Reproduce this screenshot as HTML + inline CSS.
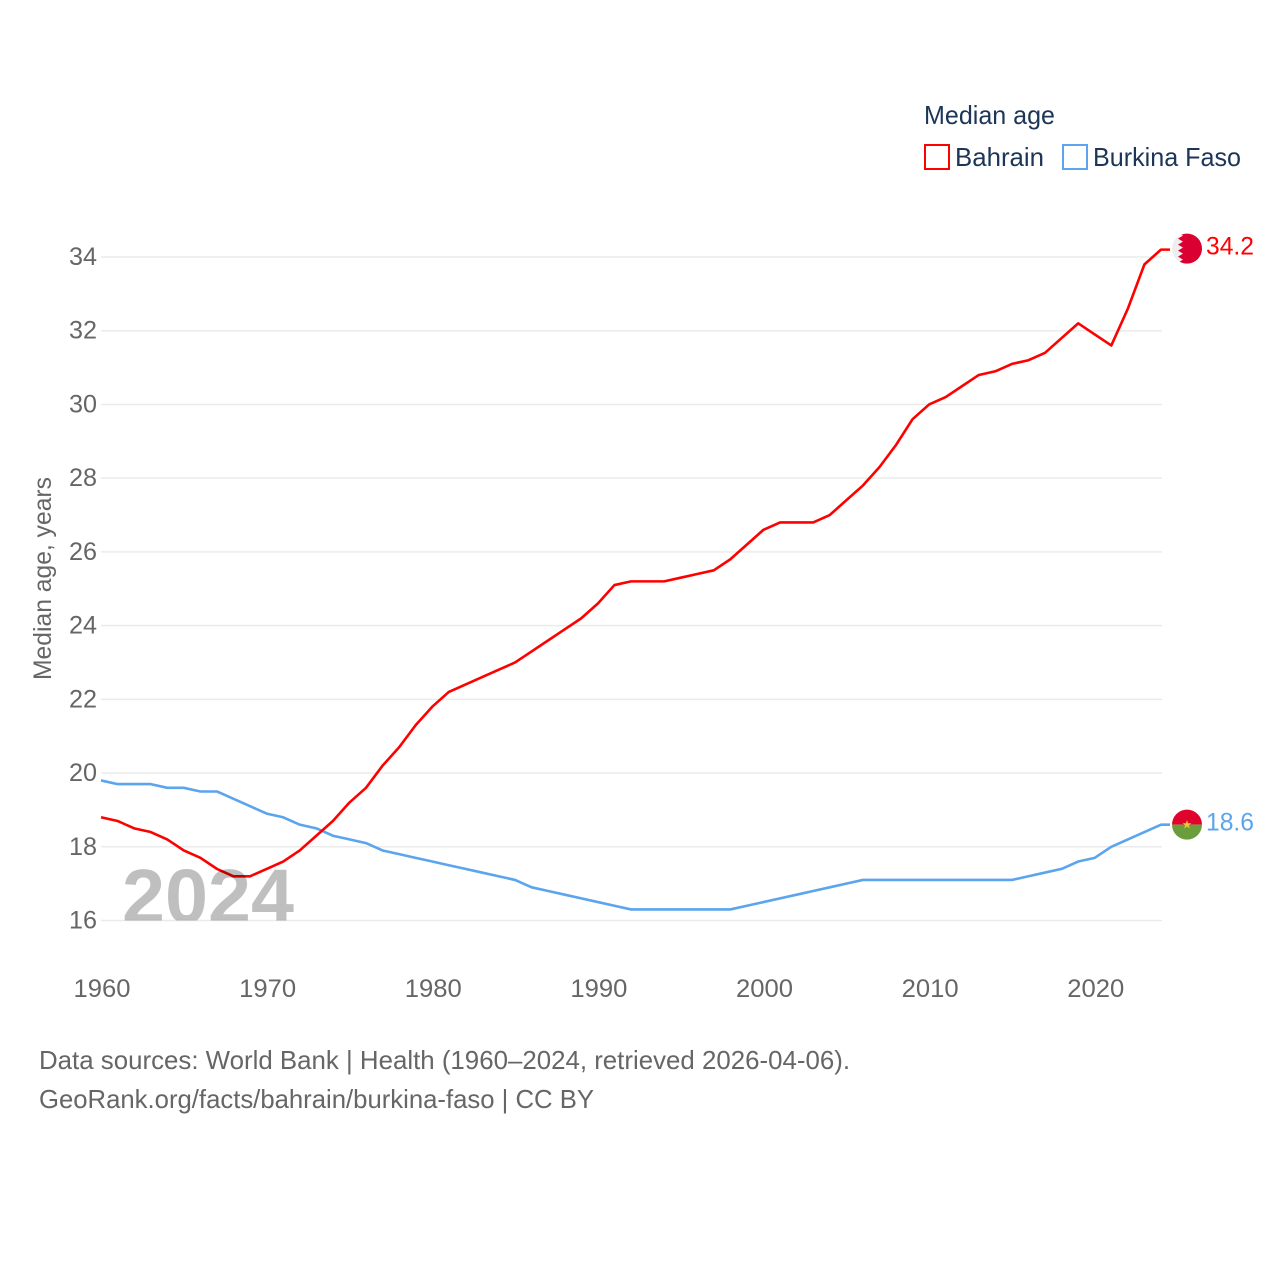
<!DOCTYPE html>
<html lang="en">
<head>
<meta charset="utf-8">
<title>Median age: Bahrain and Burkina Faso</title>
<style>
html,body{margin:0;padding:0;background:#fff;}
svg{display:block;font-family:"Liberation Sans",sans-serif;}
</style>
</head>
<body>
<svg id="chart" xmlns="http://www.w3.org/2000/svg" width="1280" height="1280" viewBox="0 0 1280 1280">
  <defs>
    <clipPath id="plot-clip"><rect x="60" y="200" width="1140" height="720.5"/></clipPath>
    <clipPath id="flag-clip-a"><circle cx="0" cy="0" r="15"/></clipPath>
  </defs>
  <rect x="0" y="0" width="1280" height="1280" fill="#fff"/>
  <g id="grid"></g>
  <g id="yticks"></g>
  <g id="xticks"></g>
  <text transform="translate(51,680) rotate(-90)" font-size="25" fill="#666" textLength="203" lengthAdjust="spacingAndGlyphs">Median age, years</text>
  <g id="series"></g>
  <g clip-path="url(#plot-clip)">
    <text x="122" y="923" font-size="77" font-weight="700" fill="#000" fill-opacity="0.25" textLength="172" lengthAdjust="spacingAndGlyphs">2024</text>
  </g>
  <g id="flag-bahrain">
    <circle cx="0" cy="0" r="15" fill="#eeeeee"/>
    <path clip-path="url(#flag-clip-a)" fill="#da0032" d="M16,-16 L-9,-16 L-4,-13 L-9,-10 L-4,-7 L-9,-4 L-4,-1 L-9,2 L-4,5 L-9,8 L-4,11 L-9,14 L-4,16 L16,16 Z"/>
  </g>
  <g id="flag-burkina">
    <path clip-path="url(#flag-clip-a)" fill="#e0042d" d="M-16,-16 H16 V0 H-16 Z"/>
    <path clip-path="url(#flag-clip-a)" fill="#6a9e3d" d="M-16,0 H16 V16 H-16 Z"/>
    <path fill="#f6c338" d="M0,-4.5 L1.2,-1.4 L4.4,-1.4 L1.8,0.6 L2.8,3.8 L0,1.9 L-2.8,3.8 L-1.8,0.6 L-4.4,-1.4 L-1.2,-1.4 Z"/>
  </g>
  <text id="value-bahrain" x="1206" font-size="25" fill="#ff0000" textLength="48" lengthAdjust="spacingAndGlyphs">34.2</text>
  <text id="value-burkina" x="1206" font-size="25" fill="#5ba4ee" textLength="48" lengthAdjust="spacingAndGlyphs">18.6</text>

  <g>
    <text x="924" y="124" font-size="26" fill="#1d3557" textLength="131" lengthAdjust="spacingAndGlyphs">Median age</text>
    <rect x="925" y="145" width="24" height="24" fill="#fff" stroke="#ff0000" stroke-width="2"/>
    <text x="955" y="166" font-size="26" fill="#1d3557" textLength="89" lengthAdjust="spacingAndGlyphs">Bahrain</text>
    <rect x="1063" y="145" width="24" height="24" fill="#fff" stroke="#5ba4ee" stroke-width="2"/>
    <text x="1093" y="166" font-size="26" fill="#1d3557" textLength="148" lengthAdjust="spacingAndGlyphs">Burkina Faso</text>
  </g>
  <text x="39" y="1069" font-size="26" fill="#666" textLength="811" lengthAdjust="spacingAndGlyphs">Data sources: World Bank | Health (1960–2024, retrieved 2026-04-06).</text>
  <text x="39" y="1108" font-size="26" fill="#666" textLength="555" lengthAdjust="spacingAndGlyphs">GeoRank.org/facts/bahrain/burkina-faso | CC BY</text>
</svg>
<script>
const years = [1960,1961,1962,1963,1964,1965,1966,1967,1968,1969,1970,1971,1972,1973,1974,1975,1976,1977,1978,1979,1980,1981,1982,1983,1984,1985,1986,1987,1988,1989,1990,1991,1992,1993,1994,1995,1996,1997,1998,1999,2000,2001,2002,2003,2004,2005,2006,2007,2008,2009,2010,2011,2012,2013,2014,2015,2016,2017,2018,2019,2020,2021,2022,2023,2024];
const bahrainValues = [18.8,18.7,18.5,18.4,18.2,17.9,17.7,17.4,17.2,17.2,17.4,17.6,17.9,18.3,18.7,19.2,19.6,20.2,20.7,21.3,21.8,22.2,22.4,22.6,22.8,23.0,23.3,23.6,23.9,24.2,24.6,25.1,25.2,25.2,25.2,25.3,25.4,25.5,25.8,26.2,26.6,26.8,26.8,26.8,27.0,27.4,27.8,28.3,28.9,29.6,30.0,30.2,30.5,30.8,30.9,31.1,31.2,31.4,31.8,32.2,31.9,31.6,32.6,33.8,34.2];
const burkinaValues = [19.8,19.7,19.7,19.7,19.6,19.6,19.5,19.5,19.3,19.1,18.9,18.8,18.6,18.5,18.3,18.2,18.1,17.9,17.8,17.7,17.6,17.5,17.4,17.3,17.2,17.1,16.9,16.8,16.7,16.6,16.5,16.4,16.3,16.3,16.3,16.3,16.3,16.3,16.3,16.4,16.5,16.6,16.7,16.8,16.9,17.0,17.1,17.1,17.1,17.1,17.1,17.1,17.1,17.1,17.1,17.1,17.2,17.3,17.4,17.6,17.7,18.0,18.2,18.4,18.6];
const yTickLabels = [16,18,20,22,24,26,28,30,32,34];
const xTickLabels = [1960,1970,1980,1990,2000,2010,2020];

const NS = 'http://www.w3.org/2000/svg';
function xScale(year) { return 101 + (year - 1960) * (1161 - 101) / 64; }
function yScale(value) { return 920.5 - (value - 16) * (920.5 - 257) / 18; }

const grid = document.getElementById('grid');
const yticks = document.getElementById('yticks');
const xticks = document.getElementById('xticks');
const series = document.getElementById('series');

yTickLabels.forEach(function (v) {
  const line = document.createElementNS(NS, 'line');
  
  
  line.setAttribute('x1', 101);
  line.setAttribute('x2', 1162);
  line.setAttribute('y1', yScale(v));
  line.setAttribute('y2', yScale(v));
  line.setAttribute('stroke', '#ebebeb');
  line.setAttribute('stroke-width', '1.5');
  grid.appendChild(line);

  const t = document.createElementNS(NS, 'text');
  
  
  t.setAttribute('x', 97);
  t.setAttribute('y', yScale(v) + 8);
  t.setAttribute('text-anchor', 'end');
  t.setAttribute('font-size', '25');
  t.setAttribute('fill', '#666');
  t.setAttribute('textLength', '28');
  t.setAttribute('lengthAdjust', 'spacingAndGlyphs');
  t.textContent = String(v);
  yticks.appendChild(t);
});

xTickLabels.forEach(function (y) {
  const t = document.createElementNS(NS, 'text');
  
  
  t.setAttribute('x', xScale(y) + 1);
  t.setAttribute('y', 997);
  t.setAttribute('text-anchor', 'middle');
  t.setAttribute('font-size', '25');
  t.setAttribute('fill', '#666');
  t.setAttribute('textLength', '57');
  t.setAttribute('lengthAdjust', 'spacingAndGlyphs');
  t.textContent = String(y);
  xticks.appendChild(t);
});

function linePoints(values) {
  const pts = values.map(function (v, i) { return xScale(years[i]).toFixed(2) + ',' + yScale(v).toFixed(2); });
  pts.push('1170,' + yScale(values[values.length - 1]).toFixed(2));
  return pts.join(' ');
}

const burkinaLine = document.createElementNS(NS, 'polyline');


burkinaLine.setAttribute('points', linePoints(burkinaValues));
burkinaLine.setAttribute('fill', 'none');
burkinaLine.setAttribute('stroke', '#5ba4ee');
burkinaLine.setAttribute('stroke-width', '2.6');
burkinaLine.setAttribute('stroke-linejoin', 'round');
series.appendChild(burkinaLine);

const bahrainLine = document.createElementNS(NS, 'polyline');


bahrainLine.setAttribute('points', linePoints(bahrainValues));
bahrainLine.setAttribute('fill', 'none');
bahrainLine.setAttribute('stroke', '#ff0000');
bahrainLine.setAttribute('stroke-width', '2.6');
bahrainLine.setAttribute('stroke-linejoin', 'round');
series.appendChild(bahrainLine);

const lastBahrain = bahrainValues[bahrainValues.length - 1];
const lastBurkina = burkinaValues[burkinaValues.length - 1];
document.getElementById('flag-bahrain').setAttribute('transform', 'translate(1187,' + (yScale(lastBahrain) - 1) + ')');
document.getElementById('flag-burkina').setAttribute('transform', 'translate(1187,' + yScale(lastBurkina) + ')');
const vb = document.getElementById('value-bahrain');
vb.setAttribute('y', yScale(lastBahrain) + 5);
vb.textContent = lastBahrain.toFixed(1);
const vf = document.getElementById('value-burkina');
vf.setAttribute('y', yScale(lastBurkina) + 6);
vf.textContent = lastBurkina.toFixed(1);
</script>
</body>
</html>
